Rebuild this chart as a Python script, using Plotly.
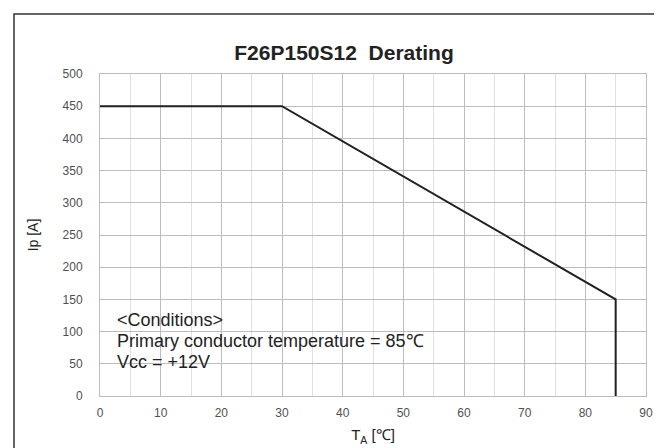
import plotly.graph_objects as go

# Data
temp_c = [0, 30, 85, 85]
ip_a = [450, 450, 150, 0]
x_ticks = [0, 10, 20, 30, 40, 50, 60, 70, 80, 90]
y_ticks = [0, 50, 100, 150, 200, 250, 300, 350, 400, 450, 500]
condition_lines = ["&lt;Conditions&gt;", "Primary conductor temperature = 85℃", "Vcc = +12V"]
condition_y = [118, 85, 53]

fig = go.Figure()
fig.add_trace(go.Scatter(x=temp_c, y=ip_a, mode="lines",
                         line=dict(color="#231f20", width=2), showlegend=False,
                         hoverinfo="skip"))

for txt, yv in zip(condition_lines, condition_y):
    fig.add_annotation(x=2.5, y=yv, xref="x", yref="y", text=txt, showarrow=False,
                       xanchor="left", yanchor="middle",
                       font=dict(family="Liberation Sans, Arial, sans-serif", size=18, color="#222"))

tick_font = dict(family="Liberation Sans, Arial, sans-serif", size=12, color="#505050")

fig.update_layout(
    width=662, height=448,
    margin=dict(l=92, r=24, t=66, b=60),
    paper_bgcolor="white", plot_bgcolor="white",
    title=dict(text="<b>F26P150S12  Derating</b>", x=336 / 662, xanchor="center",
               y=1 - 45 / 448, yanchor="middle",
               font=dict(family="Liberation Sans, Arial, sans-serif", size=21, color="#222")),
    xaxis=dict(range=[0, 90], tickvals=x_ticks, showgrid=True, gridcolor="#bdbdbd", gridwidth=1,
               minor=dict(dtick=5, showgrid=True, gridcolor="#e0e0e0", gridwidth=1),
               showline=True, linecolor="#bdbdbd", linewidth=1, mirror=True,
               zeroline=False, ticks="", tickfont=tick_font, ticklabelstandoff=6,
               title=dict(text="T<sub>A</sub> [℃]", standoff=10,
                          font=dict(family="Liberation Sans, Arial, sans-serif", size=15, color="#222"))),
    yaxis=dict(range=[0, 500], tickvals=y_ticks, showgrid=True, gridcolor="#bdbdbd", gridwidth=1,
               showline=True, linecolor="#bdbdbd", linewidth=1, mirror=True,
               zeroline=False, ticks="", tickfont=tick_font, ticklabelstandoff=14,
               title=dict(text="Ip [A]", standoff=20,
                          font=dict(family="Liberation Sans, Arial, sans-serif", size=14, color="#222"))),
    shapes=[dict(type="rect", xref="paper", yref="paper",
                 x0=(6 - 92) / 546, x1=(668 - 92) / 546,
                 y0=-(454 - 388) / 322, y1=1 + (66 - 6) / 322,
                 line=dict(color="#333", width=1.5), fillcolor="rgba(0,0,0,0)", layer="below")],
)

fig.write_html("out.html")
